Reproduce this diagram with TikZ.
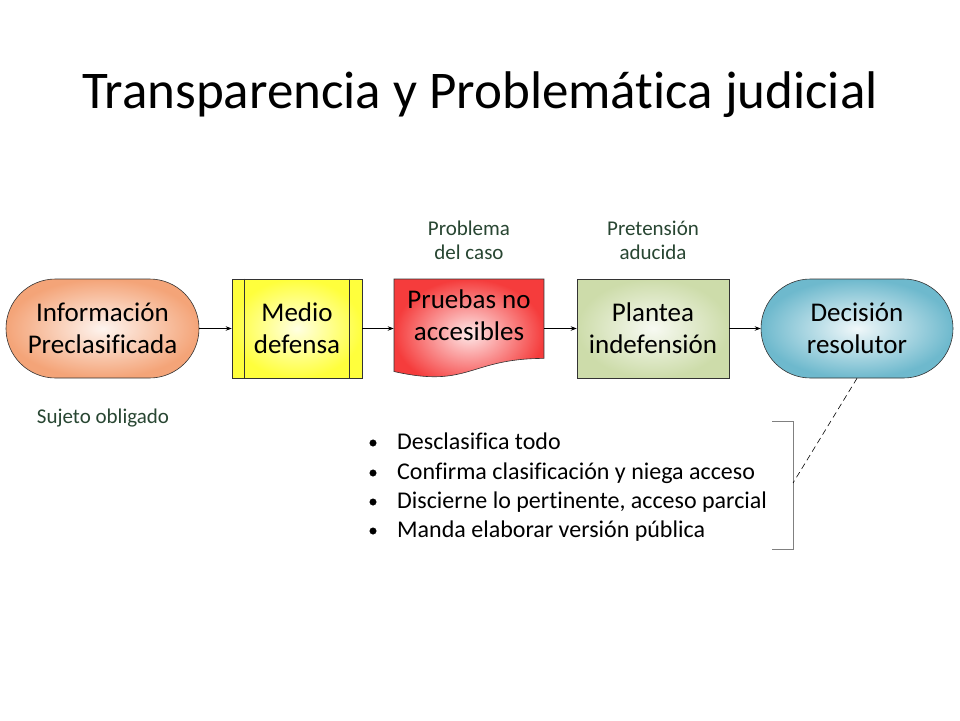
\documentclass[tikz,border=0pt]{standalone}
\usepackage{fontspec}
\setmainfont{Carlito}[Ligatures=NoCommon]
\usetikzlibrary{arrows.meta}
\definecolor{orgc}{RGB}{244,164,120}
\definecolor{yelc}{RGB}{255,255,60}
\definecolor{redc}{RGB}{245,60,60}
\definecolor{grnc}{RGB}{205,220,170}
\definecolor{bluc}{RGB}{110,185,205}
\definecolor{labelgreen}{RGB}{40,70,50}
\definecolor{brkgray}{RGB}{128,128,128}
\begin{document}
\begin{tikzpicture}[x=1pt,y=-1pt,
  box/.style={draw=black!80, line width=0.6pt, text=black, font=\fontsize{27}{32}\selectfont, align=center, inner sep=0pt},
  term/.style={box, minimum width=193pt, minimum height=99pt, rounded corners=49.5pt},
  proc/.style={box, minimum width=130pt, minimum height=99pt},
  lbl/.style={text=labelgreen, font=\fontsize{21}{24}\selectfont, align=center, inner sep=0pt},
  conn/.style={-{Stealth[length=6pt,width=4.5pt]}, line width=0.6pt},
  bul/.style={anchor=base west, inner sep=0pt, font=\fontsize{24}{29}\selectfont},
  dot/.style={fill=black, draw=black, line width=0.3pt}
]
\useasboundingbox[fill=white] (0,0) rectangle (960,720);

% title
\node[anchor=base, inner sep=0pt, font=\fontsize{53}{60}\selectfont] (title) at (480,108) {Transparencia y Problemática judicial};

% nodes
\node[term, inner color=orgc!12, outer color=orgc] (info) at (102.5,328.5) {Información\\Preclasificada};
\node[proc, inner color=yelc!15, outer color=yelc] (med) at (297,328.5) {Medio\\defensa};
\draw[black!80, line width=0.6pt] ([xshift=13pt]med.north west) -- ([xshift=13pt]med.south west);
\draw[black!80, line width=0.6pt] ([xshift=-13pt]med.north east) -- ([xshift=-13pt]med.south east);

% document shape
\shade[inner color=redc!12, outer color=redc, draw=black!80, line width=0.6pt]
  (394,279) -- (544,279) -- (544,358.4) .. controls (469,358.4) and (469,388.6) .. (394,371.5) -- cycle;
\node[box, draw=none, minimum width=150pt, minimum height=99pt] (pru) at (469,328.5) {};
\node[box, draw=none] (prutxt) at ([yshift=13.5pt]pru.center) {Pruebas no\\accesibles};

\node[proc, minimum width=152pt, inner color=grnc!15, outer color=grnc] (pla) at (653,328.5) {Plantea\\indefensión};
\node[term, minimum width=192pt, inner color=bluc!10, outer color=bluc] (dec) at (857,328.5) {Decisión\\resolutor};

% connectors
\draw[conn] (info.east) -- (med.west);
\draw[conn] (med.east) -- (pru.west);
\draw[conn] (pru.east) -- (pla.west);
\draw[conn] (pla.east) -- (dec.west);

% labels
\node[lbl] (lprob) at (469,240) {Problema\\del caso};
\node[lbl] (lpret) at (653,240) {Pretensión\\aducida};
\node[lbl, anchor=base] (lsuj) at (103,423) {Sujeto obligado};

% bullet list
\node[bul] (b1) at (397,449) {Desclasifica todo};
\node[bul] (b2) at (397,479) {Confirma clasificación y niega acceso};
\node[bul] (b3) at (397,508) {Discierne lo pertinente, acceso parcial};
\node[bul] (b4) at (397,537) {Manda elaborar versión pública};
\foreach \yy in {443,473,502,531} \draw[dot] (373,\yy) circle (3.3pt);

% bracket
\coordinate (bt) at (772,421);
\coordinate (bb) at (772,549);
\coordinate (brk) at (793,483);
\draw[brkgray, line width=1pt] (bt) -- (793,421) -- (793,549) -- (bb);
\draw[dash pattern=on 6pt off 4pt, line width=0.6pt] (dec.south) -- (brk);
\end{tikzpicture}
\end{document}
